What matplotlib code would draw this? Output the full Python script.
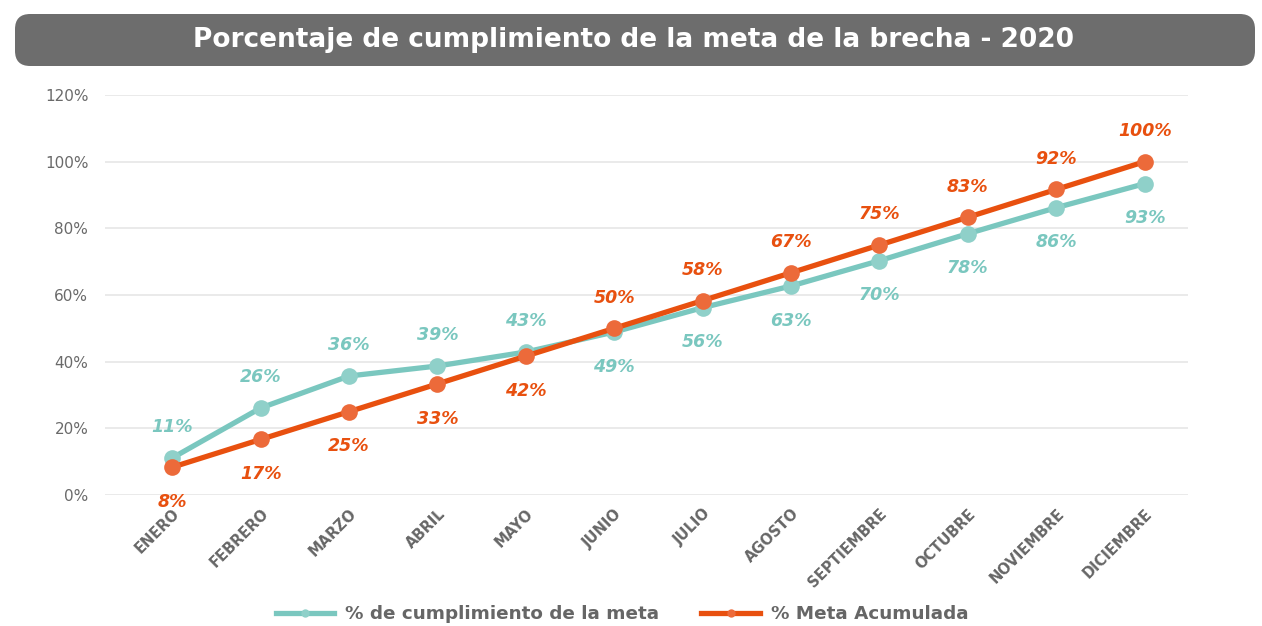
import matplotlib.pyplot as plt
from matplotlib.patches import FancyBboxPatch
from matplotlib.ticker import PercentFormatter

meses = ["ENERO", "FEBRERO", "MARZO", "ABRIL", "MAYO", "JUNIO", "JULIO",
         "AGOSTO", "SEPTIEMBRE", "OCTUBRE", "NOVIEMBRE", "DICIEMBRE"]
cumplimiento = [0.111, 0.261, 0.357, 0.387, 0.429, 0.489, 0.562, 0.627,
                0.703, 0.784, 0.862, 0.934]
meta_acum = [0.0833, 0.1667, 0.25, 0.3333, 0.4167, 0.50, 0.5833, 0.6667,
             0.75, 0.8333, 0.9167, 1.00]

teal = "#7ac7bf"
naranja = "#e8500f"
gris = "#666666"

fig = plt.figure(figsize=(12.62, 6.26), dpi=100)
ax = fig.add_axes([105 / 1262, 131 / 626, 1083 / 1262, 400 / 626])

x = list(range(len(meses)))
ax.plot(x, cumplimiento, color=teal, lw=3.8, marker="o", ms=12,
        markerfacecolor="#8fd0c9", markeredgecolor="none", zorder=3,
        label="% de cumplimiento de la meta")
ax.plot(x, meta_acum, color=naranja, lw=3.8, marker="o", ms=12,
        markerfacecolor="#ec6a3a", markeredgecolor="none", zorder=4,
        label="% Meta Acumulada")

# etiquetas de datos
for i in x:
    arriba = i < 5
    ax.annotate(f"{cumplimiento[i] * 100:.0f}%", (i, cumplimiento[i]),
                xytext=(0, 22 if arriba else -25), textcoords="offset points",
                ha="center", va="center", color=teal, fontsize=12.5,
                fontweight="bold", fontstyle="italic")
    ax.annotate(f"{meta_acum[i] * 100:.0f}%", (i, meta_acum[i]),
                xytext=(0, -25 if arriba else 22), textcoords="offset points",
                ha="center", va="center", color=naranja, fontsize=12.5,
                fontweight="bold", fontstyle="italic")

ax.set_ylim(0, 1.2)
ax.set_xlim(-0.76, 11.49)
ax.set_yticks([0, 0.2, 0.4, 0.6, 0.8, 1.0, 1.2])
ax.yaxis.set_major_formatter(PercentFormatter(1.0, decimals=0))
ax.set_xticks(x)
ax.set_xticklabels(meses, rotation=45, ha="right", rotation_mode="anchor",
                   fontsize=10.5, fontweight="bold", color=gris)
ax.tick_params(axis="y", labelsize=11, colors="#6a6a6a", length=0, pad=12)
ax.tick_params(axis="x", length=0, pad=8)
ax.grid(axis="y", color="#e6e6e6", lw=1.2)
ax.set_axisbelow(True)
for s in ax.spines.values():
    s.set_visible(False)

# titulo en caja redondeada
caja = FancyBboxPatch((15 / 1262, 560 / 626), 1240 / 1262, 52 / 626,
                      boxstyle="round,pad=0,rounding_size=0.012",
                      transform=fig.transFigure, facecolor="#6d6d6d",
                      edgecolor="none", mutation_aspect=1262 / 626)
fig.patches.append(caja)
fig.text(0.502, 586 / 626, "Porcentaje de cumplimiento de la meta de la brecha - 2020",
         ha="center", va="center", color="white", fontsize=19, fontweight="bold")

fig.legend(loc="center", bbox_to_anchor=(0.493, 12 / 626), ncol=2, frameon=False,
           handlelength=3.2, handletextpad=0.6, markerscale=0.5, columnspacing=2.3,
           prop={"size": 13.2, "weight": "bold"}, labelcolor=gris)

fig.savefig("out.png", dpi=100)
